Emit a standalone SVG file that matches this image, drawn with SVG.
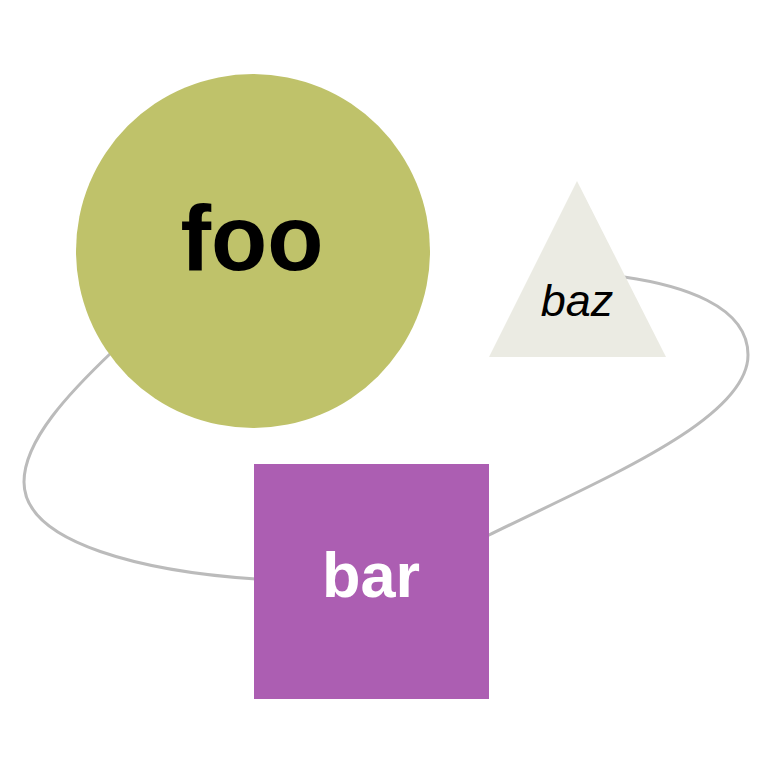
<svg xmlns="http://www.w3.org/2000/svg" width="773" height="773" viewBox="0 0 773 773">
<style>
.edge{fill:none;stroke:#bbbbbb;stroke-width:3}
.lbl{font-family:"Liberation Sans",Arial,sans-serif;text-anchor:middle}
</style>
<rect width="773" height="773" fill="#ffffff"/>
<g id="connectors">
<path class="edge" d="M112,352 C70,392 24,440 24,482 C24,545 150,572 256,579"/>
<path class="edge" d="M487,536 C600,480 748,420 748,355 C748,305 680,285 624,277"/>
</g>
<g id="foo">
<circle cx="253" cy="251" r="177" fill="#bfc26a"/>
<text class="lbl" x="252" y="270" font-size="92" font-weight="bold" fill="#000000">foo</text>
</g>
<g id="bar">
<rect x="254" y="464" width="235" height="235" fill="#ac5eb2"/>
<text class="lbl" x="371" y="597" font-size="63" font-weight="bold" fill="#ffffff">bar</text>
</g>
<g id="baz">
<polygon points="577,181 666,357 489,357" fill="#ebebe3"/>
<text class="lbl" x="577" y="316" font-size="45" font-style="italic" fill="#000000">baz</text>
</g>
</svg>
